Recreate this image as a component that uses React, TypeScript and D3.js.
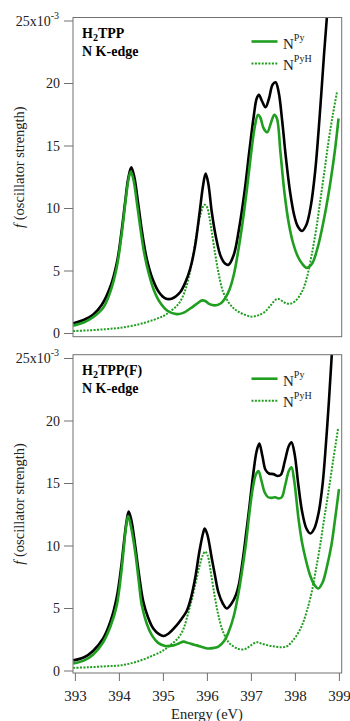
import React from "react";
import * as d3 from "d3";

// ---------- data ----------
const xTicks = [393, 394, 395, 396, 397, 398, 399];
const yTicks = [0, 5, 10, 15, 20, 25];
const seriesNames = ["Py", "PyH"];
const panelTitles = ["H2TPP", "H2TPP(F)"];

// Top panel (H2TPP)
const topTotalE = [392.95, 393.2, 393.4, 393.6, 393.8, 393.95, 394.05, 394.13, 394.2, 394.27, 394.34, 394.43, 394.52, 394.62, 394.75, 394.9, 395.05, 395.2, 395.38, 395.5, 395.61, 395.72, 395.82, 395.9, 395.96, 396.02, 396.1, 396.2, 396.3, 396.4, 396.48, 396.6, 396.72, 396.85, 396.95, 397.05, 397.12, 397.17, 397.24, 397.32, 397.4, 397.48, 397.55, 397.62, 397.7, 397.78, 397.88, 397.97, 398.05, 398.15, 398.25, 398.35, 398.45, 398.55, 398.65, 398.72, 398.76];
const topTotalF = [0.82, 1.1, 1.5, 2.3, 3.8, 5.8, 8.2, 10.5, 12.4, 13.3, 12.5, 10.3, 8.0, 6.0, 4.4, 3.3, 2.8, 2.8, 3.3, 4.1, 5.2, 7.0, 9.6, 11.8, 12.8, 12.0, 9.7, 7.6, 6.2, 5.6, 5.5, 6.3, 8.4, 11.5, 14.5, 17.3, 18.8, 19.1, 18.6, 18.1, 18.8, 19.9, 20.1, 19.3, 17.0, 14.2, 11.3, 9.5, 8.6, 8.2, 8.7, 10.2, 13.0, 17.3, 22.3, 25.5, 27.5];

const topPyE = [392.95, 393.2, 393.4, 393.64, 393.8, 393.94, 394.05, 394.15, 394.21, 394.26, 394.32, 394.4, 394.47, 394.56, 394.66, 394.78, 394.92, 395.1, 395.3, 395.45, 395.61, 395.75, 395.88, 395.95, 396.05, 396.17, 396.3, 396.4, 396.5, 396.6, 396.7, 396.8, 396.9, 397.0, 397.08, 397.15, 397.2, 397.28, 397.36, 397.44, 397.52, 397.58, 397.66, 397.75, 397.85, 397.95, 398.05, 398.15, 398.26, 398.38, 398.5, 398.6, 398.7, 398.8, 398.9, 398.98];
const topPyF = [0.63, 0.9, 1.3, 2.1, 3.4, 5.3, 7.9, 10.9, 12.4, 12.95, 12.3, 10.4, 8.6, 6.5, 4.9, 3.5, 2.5, 1.8, 1.55, 1.65, 2.0, 2.35, 2.65, 2.6, 2.35, 2.25, 2.4, 2.8, 3.5, 4.7, 6.6, 8.9, 11.6, 14.6, 16.6, 17.5, 17.3, 16.4, 16.1, 16.8, 17.5, 17.2, 14.5, 11.3, 8.8, 7.2, 6.2, 5.6, 5.25, 5.6, 6.8, 8.3, 10.1, 12.2, 14.7, 17.2];

const topPyHE = [392.95, 393.3, 393.7, 394.0, 394.4, 394.77, 395.0, 395.15, 395.3, 395.38, 395.48, 395.57, 395.66, 395.76, 395.85, 395.93, 395.98, 396.05, 396.1, 396.18, 396.26, 396.36, 396.48, 396.6, 396.7, 396.85, 397.0, 397.15, 397.31, 397.45, 397.55, 397.62, 397.7, 397.8, 397.9, 398.0, 398.15, 398.27, 398.37, 398.47, 398.56, 398.66, 398.75, 398.85, 398.95];
const topPyHF = [0.2, 0.25, 0.35, 0.45, 0.7, 1.08, 1.4, 1.75, 2.2, 2.55, 3.3, 4.4, 5.9, 8.1, 9.6, 10.3, 10.2, 9.2, 8.1, 6.3, 4.7, 3.3, 2.5, 2.0, 1.75, 1.5, 1.35, 1.45, 1.75, 2.3, 2.7, 2.76, 2.6, 2.4, 2.4, 2.6, 3.35, 4.6, 6.3, 8.3, 10.5, 13.0, 15.3, 17.5, 19.4];

// Bottom panel (H2TPP(F))
const botTotalE = [392.95, 393.2, 393.4, 393.63, 393.8, 393.94, 394.04, 394.1, 394.16, 394.21, 394.27, 394.36, 394.45, 394.54, 394.65, 394.77, 394.9, 395.0, 395.12, 395.3, 395.42, 395.53, 395.63, 395.72, 395.82, 395.9, 395.94, 396.0, 396.1, 396.18, 396.25, 396.35, 396.44, 396.55, 396.65, 396.72, 396.8, 396.88, 396.95, 397.05, 397.12, 397.18, 397.25, 397.32, 397.4, 397.5, 397.6, 397.67, 397.76, 397.85, 397.91, 397.98, 398.07, 398.15, 398.25, 398.34, 398.43, 398.53, 398.62, 398.68, 398.76, 398.82, 398.86];
const botTotalF = [0.85, 1.1, 1.6, 2.6, 4.0, 5.9, 8.3, 10.2, 11.9, 12.75, 12.1, 10.0, 7.6, 5.6, 4.3, 3.4, 2.95, 2.8, 3.0, 3.65, 4.2, 4.8, 5.9, 7.4, 9.6, 11.0, 11.4, 10.9, 9.0, 7.5, 6.3, 5.4, 5.0, 5.4, 6.1, 7.0, 8.8, 11.0, 13.0, 16.0, 17.6, 18.2, 17.2, 16.1, 15.8, 15.75, 15.6, 15.7, 16.8, 18.0, 18.3, 17.4, 14.8, 12.8, 11.4, 11.0, 11.4, 12.7, 15.0, 17.5, 21.5, 24.9, 27.5];

const botPyE = [392.95, 393.2, 393.4, 393.63, 393.8, 393.94, 394.04, 394.09, 394.15, 394.2, 394.26, 394.36, 394.44, 394.51, 394.62, 394.74, 394.88, 395.04, 395.23, 395.35, 395.46, 395.55, 395.65, 395.76, 395.9, 396.0, 396.15, 396.25, 396.38, 396.48, 396.6, 396.71, 396.8, 396.88, 396.94, 397.03, 397.1, 397.16, 397.23, 397.3, 397.38, 397.46, 397.54, 397.62, 397.69, 397.77, 397.85, 397.91, 397.97, 398.07, 398.15, 398.23, 398.33, 398.43, 398.52, 398.62, 398.72, 398.82, 398.9, 398.99];
const botPyF = [0.6, 0.85, 1.3, 2.3, 3.6, 5.25, 7.8, 9.5, 11.5, 12.4, 11.6, 9.5, 7.2, 5.25, 3.8, 2.85, 2.25, 2.0, 2.05, 2.2, 2.35, 2.25, 2.15, 2.05, 1.9, 1.8, 1.85, 1.95, 2.4, 3.1, 4.4, 6.3, 8.3, 10.3, 12.2, 14.6, 15.7, 16.0, 15.2, 14.3, 13.9, 13.85, 13.9, 13.8, 13.9, 14.9, 16.0, 16.3, 15.3, 12.2, 10.3, 9.0, 7.7, 6.9, 6.6, 7.1, 8.4, 10.1, 12.1, 14.55];

const botPyHE = [392.95, 393.3, 393.7, 394.02, 394.4, 394.77, 395.0, 395.15, 395.3, 395.38, 395.46, 395.53, 395.63, 395.72, 395.82, 395.9, 395.95, 396.0, 396.1, 396.17, 396.25, 396.35, 396.48, 396.6, 396.72, 396.85, 396.95, 397.05, 397.13, 397.22, 397.38, 397.55, 397.7, 397.82, 397.91, 398.02, 398.15, 398.26, 398.37, 398.46, 398.56, 398.65, 398.75, 398.86, 398.97];
const botPyHF = [0.25, 0.3, 0.38, 0.45, 0.75, 1.25, 1.65, 2.05, 2.5, 2.85, 3.4, 4.2, 5.5, 6.85, 8.4, 9.3, 9.55, 9.3, 7.4, 5.9, 4.45, 3.2, 2.3, 1.95, 1.75, 1.75, 1.95, 2.2, 2.3, 2.2, 2.05, 1.95, 1.9, 2.0, 2.3, 2.8, 3.65, 4.8, 6.3, 8.0, 10.0, 12.1, 14.3, 16.9, 19.4];

// ---------- styling ----------
const GREEN = "#1f9e1f";
const FONT = "Liberation Serif, Times New Roman, DejaVu Serif, serif";
const AXIS = "#707070";
const tx = { fontFamily: FONT } as React.CSSProperties;

type Pt = [number, number];
const zip = (e: number[], f: number[]): Pt[] => e.map((v, i) => [v, f[i]]);

const xScale = d3.scaleLinear().domain([393, 399]).range([75.4, 339.4]);

interface PanelProps {
  id: string;
  top: number;
  bottom: number;
  y0: number; // pixel of f=0
  title: string;
  total: Pt[];
  py: Pt[];
  pyh: Pt[];
  showX: boolean;
}

function Title({ x, y, text }: { x: number; y: number; text: string }) {
  const rest = text.slice(2);
  return (
    <text x={x} y={y} style={tx} fontWeight="bold" fontSize={14} fill="#000">
      H
      <tspan fontSize={10} dy={3}>2</tspan>
      <tspan dy={-3}>{rest}</tspan>
    </text>
  );
}

function Panel({ id, top, bottom, y0, title, total, py, pyh, showX }: PanelProps) {
  const left = 73;
  const right = 341.7;
  const yScale = d3.scaleLinear().domain([0, 25]).range([y0, y0 - 25 * 12.5]);
  const line = d3
    .line<Pt>()
    .x((d) => xScale(d[0]))
    .y((d) => yScale(d[1]))
    .curve(d3.curveCatmullRom.alpha(0.5));
  const cx = (top + bottom) / 2 - 10;
  return (
    <g>
      <defs>
        <clipPath id={id}>
          <rect x={left} y={top} width={right - left} height={bottom - top} />
        </clipPath>
      </defs>
      <g clipPath={`url(#${id})`}>
        <path d={line(pyh) || ""} fill="none" stroke={GREEN} strokeWidth={2} strokeDasharray="2,1.4" />
        <path d={line(total) || ""} fill="none" stroke="#000" strokeWidth={2.6} strokeLinejoin="round" />
        <path d={line(py) || ""} fill="none" stroke={GREEN} strokeWidth={2.6} strokeLinejoin="round" />
      </g>
      <rect x={left} y={top} width={right - left} height={bottom - top} fill="none" stroke={AXIS} strokeWidth={1} />
      {yTicks.map((t) => (
        <g key={t}>
          <line x1={left - 9} x2={left} y1={yScale(t)} y2={yScale(t)} stroke={AXIS} strokeWidth={1} />
          {t === 25 ? (
            <text x={left - 14} y={yScale(t) + 4.5} textAnchor="end" style={tx} fontSize={14} fill="#222">
              25x10
              <tspan fontSize={10} dy={-7}>-3</tspan>
            </text>
          ) : (
            <text x={left - 13} y={yScale(t) + 4.5} textAnchor="end" style={tx} fontSize={14} fill="#222">
              {t}
            </text>
          )}
        </g>
      ))}
      {showX &&
        xTicks.map((t) => (
          <g key={t}>
            <line x1={xScale(t)} x2={xScale(t)} y1={bottom} y2={bottom + 8} stroke={AXIS} strokeWidth={1} />
            <text x={xScale(t)} y={bottom + 28} textAnchor="middle" style={tx} fontSize={15} fill="#222">
              {t}
            </text>
          </g>
        ))}
      <text
        transform={`translate(24,${cx}) rotate(-90)`}
        textAnchor="middle"
        style={tx}
        fontSize={14.5}
        fill="#222"
      >
        <tspan fontStyle="italic">f</tspan> (oscillator strength)
      </text>
      <Title x={82} y={top + 20} text={title} />
      <text x={82} y={top + 38} style={tx} fontWeight="bold" fontSize={14} fill="#000">
        N K-edge
      </text>
      {/* legend */}
      <line x1={251.5} x2={277.5} y1={top + 24} y2={top + 24} stroke={GREEN} strokeWidth={2.6} />
      <text x={283} y={top + 31} style={tx} fontSize={15} fill="#222">
        N<tspan fontSize={10} dy={-8}>{seriesNames[0]}</tspan>
      </text>
      <line x1={251.5} x2={277.5} y1={top + 46} y2={top + 46} stroke={GREEN} strokeWidth={2} strokeDasharray="2,1.4" />
      <text x={283} y={top + 52} style={tx} fontSize={15} fill="#222">
        N<tspan fontSize={10} dy={-8}>{seriesNames[1]}</tspan>
      </text>
    </g>
  );
}

export default function App() {
  return (
    <svg
      width={350}
      height={721}
      style={{ position: "absolute", left: 0, top: 0, background: "#fff" }}
    >
      <rect x={0} y={0} width={350} height={721} fill="#fff" />
      <Panel
        id="clipTop"
        top={17.5}
        bottom={336.7}
        y0={333.5}
        title={panelTitles[0]}
        total={zip(topTotalE, topTotalF)}
        py={zip(topPyE, topPyF)}
        pyh={zip(topPyHE, topPyHF)}
        showX={false}
      />
      <Panel
        id="clipBot"
        top={354.7}
        bottom={673}
        y0={671}
        title={panelTitles[1]}
        total={zip(botTotalE, botTotalF)}
        py={zip(botPyE, botPyF)}
        pyh={zip(botPyHE, botPyHF)}
        showX={true}
      />
      <text x={207} y={719} textAnchor="middle" style={tx} fontSize={14.5} fill="#222">
        Energy (eV)
      </text>
    </svg>
  );
}
